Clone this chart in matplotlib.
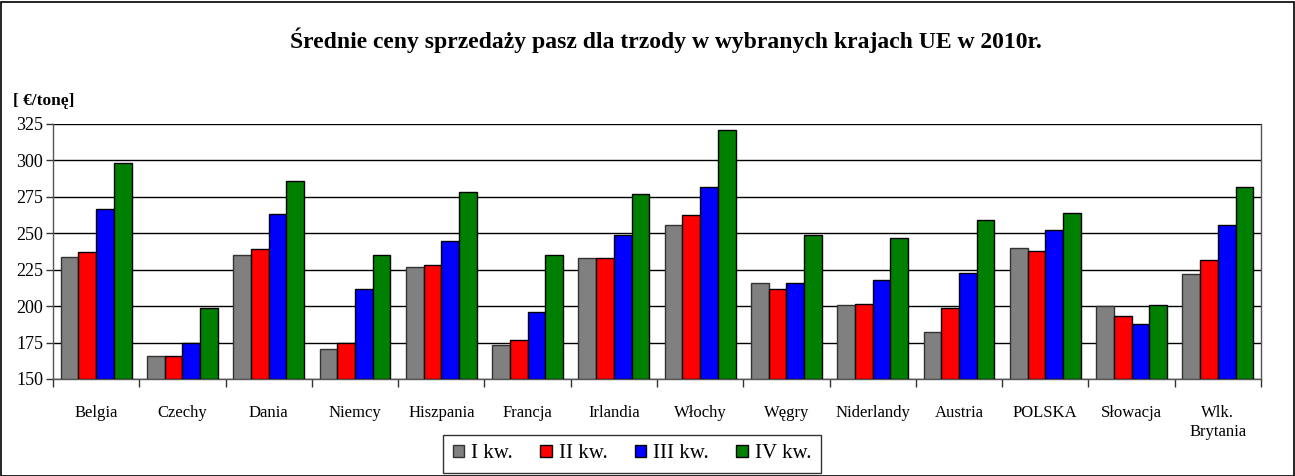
import numpy as np
import matplotlib.pyplot as plt
from matplotlib.patches import Rectangle

countries = ['Belgia', 'Czechy', 'Dania', 'Niemcy', 'Hiszpania', 'Francja', 'Irlandia',
             'Włochy', 'Węgry', 'Niderlandy', 'Austria', 'POLSKA', 'Słowacja', 'Wlk.\nBrytania']

q1 = [234, 165.5, 235, 170.5, 227, 173, 233, 256, 216, 200.5, 182, 240, 200, 222]
q2 = [237, 165.5, 239, 175, 228, 177, 233, 262.5, 212, 201.5, 199, 238, 193, 232]
q3 = [267, 175, 263, 212, 245, 196, 249, 282, 216, 218, 223, 252, 187.5, 256]
q4 = [298, 199, 286, 235, 278, 235, 277, 321, 249, 247, 259, 264, 200.5, 282]

series_names = ['I kw.', 'II kw.', 'III kw.', 'IV kw.']
colors = ['#808080', '#ff0000', '#0000ff', '#008000']
edges = ['#333333', 'black', 'black', 'black']

plt.rcParams['font.family'] = ['Liberation Serif', 'DejaVu Serif']

W, H = 1295, 476
fig = plt.figure(figsize=(W / 100, H / 100), dpi=100)

# outer frame
fig.patches.append(Rectangle((0.5 / W, 0.5 / H), 1 - 2 / W, 1 - 2 / H, transform=fig.transFigure,
                             fill=False, edgecolor='black', linewidth=1.2))

left, right, top, bottom = 53, 1261, 124, 379
ax = fig.add_axes((left / W, 1 - bottom / H, (right - left) / W, (bottom - top) / H))

x = np.arange(len(countries))
bw = 0.205
data = [q1, q2, q3, q4]
for i, vals in enumerate(data):
    ax.bar(x + (i - 1.5) * bw, np.array(vals) - 150, bw, bottom=150, color=colors[i],
           edgecolor=edges[i], linewidth=1.0, label=series_names[i], zorder=3)

ax.set_xlim(-0.5, len(countries) - 0.5)
ax.set_ylim(150, 325)
ax.set_yticks(np.arange(150, 326, 25))
ax.yaxis.grid(True, color='black', linewidth=1.0, zorder=0)
ax.set_axisbelow(True)
for s in ax.spines.values():
    s.set_color('#555555')
    s.set_linewidth(1.0)
ax.spines['top'].set_visible(False)

# category ticks at boundaries, labels in the middle
ax.set_xticks(np.arange(-0.5, len(countries)), minor=False)
ax.set_xticklabels([])
ax.set_xticks(x, minor=True)
ax.set_xticklabels(countries, minor=True, fontsize=12, linespacing=1.2)
ax.tick_params(axis='x', which='major', length=6, width=1, color='#333333', direction='out')
ax.tick_params(axis='x', which='minor', length=0, pad=19)
ax.tick_params(axis='y', length=5, width=1, labelsize=13, pad=2, color='#333333')

fig.text(666 / W, 1 - 40 / H, 'Średnie ceny sprzedaży pasz dla trzody w wybranych krajach UE w 2010r.',
         ha='center', va='center', fontsize=17, fontweight='bold')
fig.text(13 / W, 1 - 101 / H, '[ €/tonę]', ha='left', va='center', fontsize=12.5, fontweight='bold')

leg = fig.legend(loc='center', bbox_to_anchor=(632 / W, 1 - 454 / H), ncol=4, frameon=True,
                 fancybox=False, edgecolor='black', fontsize=15, handlelength=0.55, handleheight=0.55,
                 handletextpad=0.35, columnspacing=1.3, borderpad=0.45)
leg.get_frame().set_linewidth(1.0)

fig.savefig('out.png', dpi=100)
